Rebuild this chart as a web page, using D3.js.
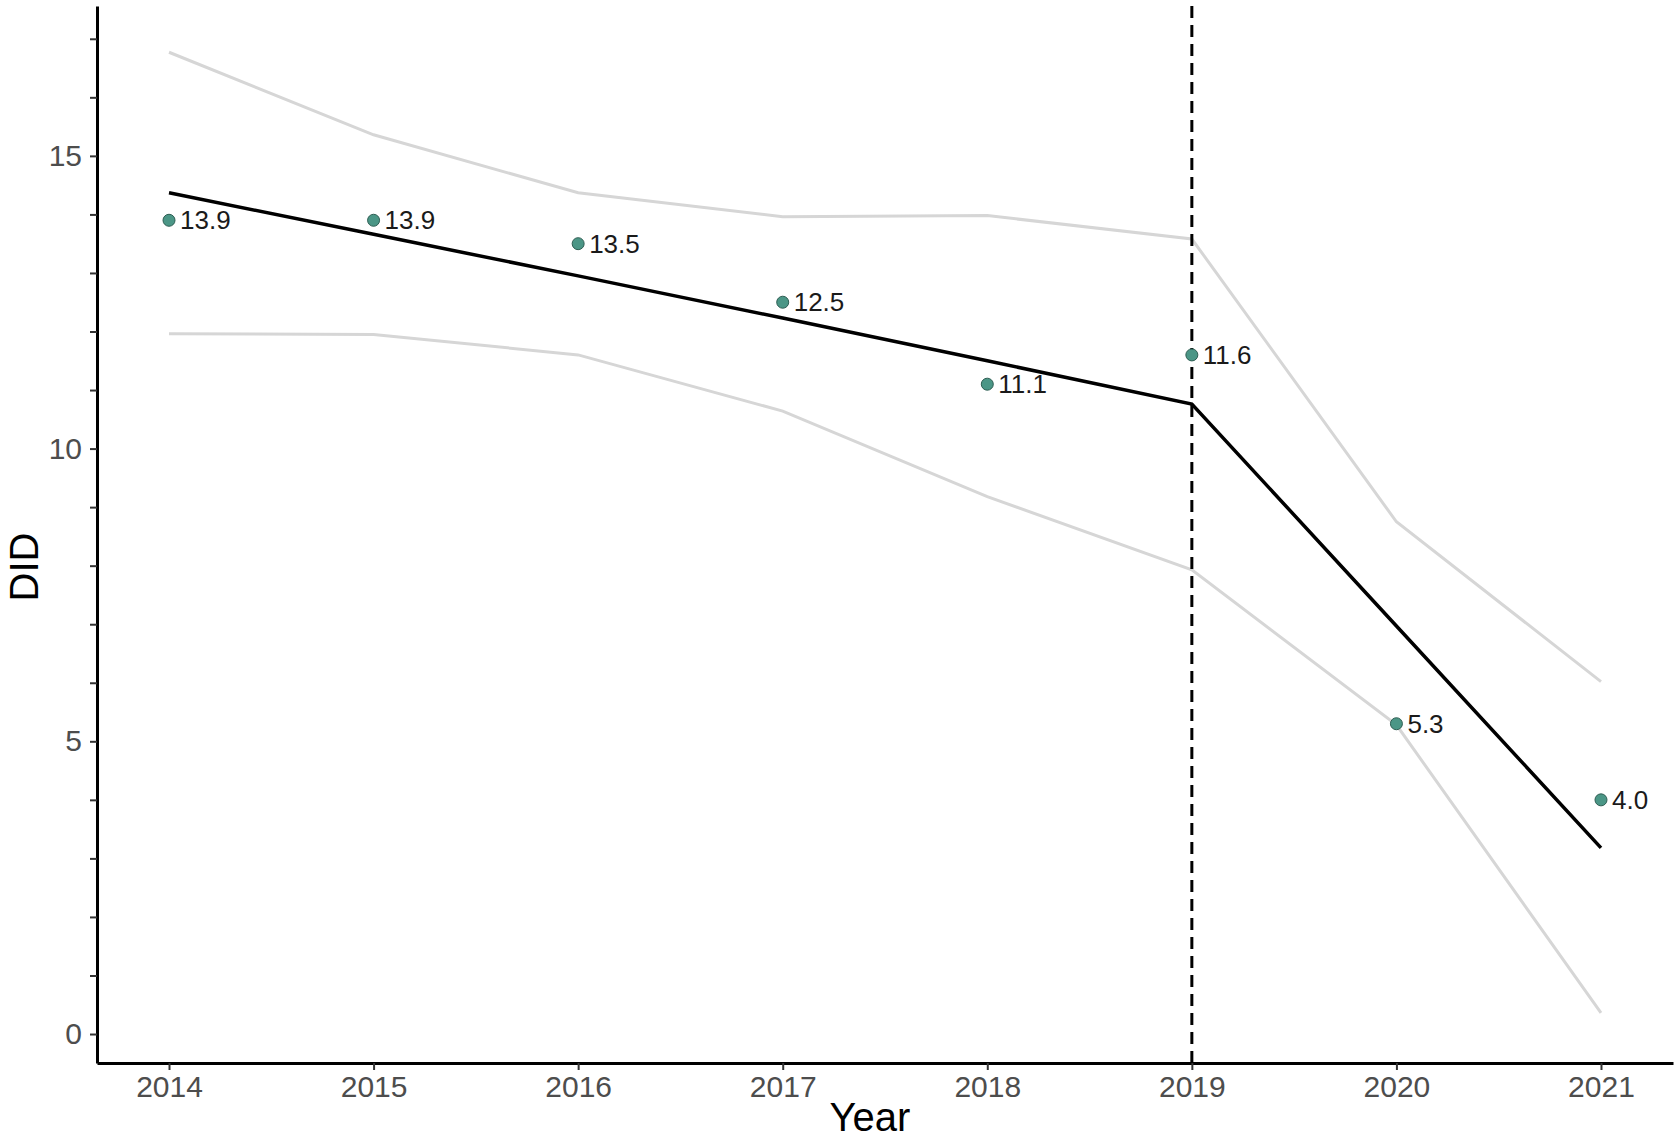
<!DOCTYPE html>
<html>
<head>
<meta charset="utf-8">
<script src="https://cdn.jsdelivr.net/npm/d3@7"></script>
<style>
  html, body { margin: 0; padding: 0; background: #fff; }
  svg { display: block; font-family: "Liberation Sans", Arial, sans-serif; }
</style>
</head>
<body>
<svg id="chart" width="1676" height="1141"></svg>
<script>
const years    = [2014, 2015, 2016, 2017, 2018, 2019, 2020, 2021];
const observed = [13.9, 13.9, 13.5, 12.5, 11.1, 11.6, 5.3, 4.0];
const fitted   = [14.37, 13.66, 12.95, 12.23, 11.50, 10.76, 6.97, 3.18];
const upperCI  = [16.77, 15.36, 14.37, 13.96, 13.98, 13.58, 8.75, 6.02];
const lowerCI  = [11.96, 11.95, 11.60, 10.64, 9.18, 7.93, 5.28, 0.36];
const yTickValues = d3.range(0, 18);
const yLabelValues = [0, 5, 10, 15];
const interventionYear = 2019;

const svg = d3.select("#chart");
const x = d3.scaleLinear().domain([2013.648, 2021.352]).range([97, 1673]);
const y = d3.scaleLinear().domain([-0.495, 17.56]).range([1063, 6]);

const line = d3.line().x(d => x(d[0])).y(d => y(d[1]));

// CI lines
[upperCI, lowerCI].forEach(arr => {
  svg.append("path")
    .datum(years.map((yr, i) => [yr, arr[i]]))
    .attr("d", line)
    .attr("fill", "none")
    .attr("stroke", "#d6d6d6")
    .attr("stroke-width", 3);
});

// dashed vertical intervention line
svg.append("line")
  .attr("x1", x(interventionYear)).attr("x2", x(interventionYear))
  .attr("y1", y.range()[1]).attr("y2", y.range()[0])
  .attr("stroke", "#000").attr("stroke-width", 3)
  .attr("stroke-dasharray", "12,7");

// fitted line
svg.append("path")
  .datum(years.map((yr, i) => [yr, fitted[i]]))
  .attr("d", line)
  .attr("fill", "none")
  .attr("stroke", "#000")
  .attr("stroke-width", 3.5);

// points
svg.selectAll("circle.pt")
  .data(years.map((yr, i) => [yr, observed[i]]))
  .join("circle")
  .attr("class", "pt")
  .attr("cx", d => x(d[0])).attr("cy", d => y(d[1]))
  .attr("r", 6)
  .attr("fill", "#4b9686")
  .attr("stroke", "#2e5e53")
  .attr("stroke-width", 1);

// labels
svg.selectAll("text.lbl")
  .data(years.map((yr, i) => [yr, observed[i]]))
  .join("text")
  .attr("class", "lbl")
  .attr("x", d => x(d[0]) + 11)
  .attr("y", d => y(d[1]))
  .attr("dy", "0.35em")
  .attr("font-size", 26)
  .attr("fill", "#1a1a1a")
  .text(d => d[1].toFixed(1));

// y axis
const yAxis = d3.axisLeft(y)
  .tickValues(yTickValues)
  .tickSize(7)
  .tickSizeOuter(0)
  .tickPadding(8)
  .tickFormat(d => yLabelValues.includes(d) ? String(d) : "");
const gy = svg.append("g").attr("transform", `translate(${x.range()[0]},0)`).call(yAxis);
gy.select(".domain").attr("stroke", "#000").attr("stroke-width", 3);
gy.selectAll(".tick line").attr("stroke", "#333").attr("stroke-width", 2);
gy.selectAll(".tick text").attr("font-size", 30).attr("fill", "#4d4d4d")
  .attr("font-family", "Liberation Sans, Arial, sans-serif");

// x axis
const xAxis = d3.axisBottom(x)
  .tickValues(years)
  .tickSize(7)
  .tickSizeOuter(0)
  .tickPadding(6)
  .tickFormat(d3.format("d"));
const gx = svg.append("g").attr("transform", `translate(0,${y.range()[0]})`).call(xAxis);
gx.select(".domain").attr("stroke", "#000").attr("stroke-width", 3);
gx.selectAll(".tick line").attr("stroke", "#333").attr("stroke-width", 2);
gx.selectAll(".tick text").attr("font-size", 30).attr("fill", "#4d4d4d")
  .attr("font-family", "Liberation Sans, Arial, sans-serif");

// axis titles
svg.append("text")
  .attr("x", 870).attr("y", 1131)
  .attr("text-anchor", "middle")
  .attr("font-size", 40)
  .attr("fill", "#000")
  .text("Year");

svg.append("text")
  .attr("transform", "translate(38,567) rotate(-90)")
  .attr("text-anchor", "middle")
  .attr("font-size", 40)
  .attr("fill", "#000")
  .text("DID");
</script>
</body>
</html>
